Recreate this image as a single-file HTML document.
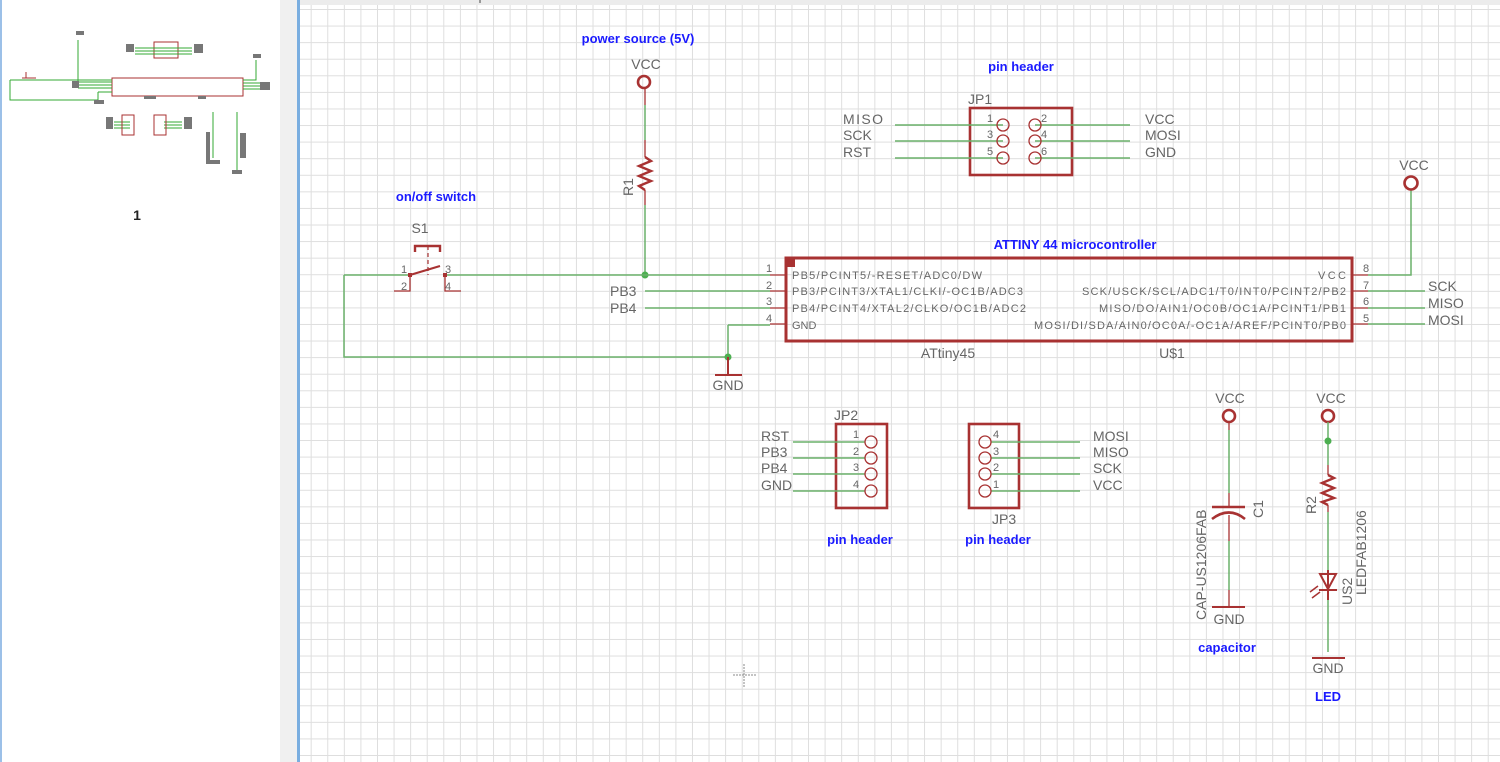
<!DOCTYPE html>
<html><head><meta charset="utf-8"><style>
html,body{margin:0;padding:0;width:1500px;height:762px;overflow:hidden;background:#fff}
svg{display:block;position:absolute;left:0;top:0}
#grid{position:absolute;left:300px;top:0;width:1200px;height:762px;
background-image:linear-gradient(to right,#dedede 1px,transparent 1px),linear-gradient(to bottom,#dedede 1px,transparent 1px);
background-size:16.58px 16.58px;background-position:10.7px 9px}
text{font-family:"Liberation Sans",sans-serif}
.g{fill:#666;font-size:14px}
.s{fill:#666;font-size:11px}
.b{fill:#1a1aff;font-size:13px;font-weight:bold}
.r{stroke:#a83232;fill:none;stroke-width:1.3}
.rt{stroke:#a83232;fill:none;stroke-width:2.6}
.w{stroke:#6ab06a;fill:none;stroke-width:1.5}
</style></head><body>
<div id="grid"></div>
<svg width="1500" height="762" viewBox="0 0 1500 762">
<!-- left panel -->
<rect x="0" y="0" width="280" height="762" fill="#fff"/>
<rect x="0" y="0" width="2" height="762" fill="#9cc0e8"/>
<rect x="280" y="0" width="17" height="762" fill="#f0f0f0"/>
<rect x="297" y="0" width="3" height="762" fill="#7aaee0"/>
<rect x="300" y="0" width="1200" height="5" fill="#ececec"/>
<rect x="479" y="0" width="2" height="3" fill="#999"/>

<!-- thumbnail -->
<g>
<rect x="112" y="78" width="131" height="18" fill="none" stroke="#a83232" stroke-width="1"/>
<path d="M10 80H112M10 80V100H98M78 82H112M78 85H112M78 88H112M98 92H112M98 92V100M78 40V82M256 60V80H243M243 83H260M243 86H260M243 89H260" stroke="#3a3" fill="none" stroke-width="1"/>
<rect x="154" y="42" width="24" height="16" fill="none" stroke="#a83232"/>
<path d="M135 48H192M135 51H192M135 54H192M114 122H130M114 125H130M114 128H130M164 122H182M164 125H182M164 128H182" stroke="#3a3" stroke-width="1"/>
<rect x="122" y="115" width="12" height="20" fill="none" stroke="#a83232"/>
<rect x="154" y="115" width="12" height="20" fill="none" stroke="#a83232"/>
<path d="M213 112V158M237 112V170" stroke="#3a3"/>
<g fill="#777"><rect x="126" y="44" width="8" height="8"/><rect x="194" y="44" width="9" height="9"/><rect x="72" y="81" width="7" height="7"/><rect x="94" y="100" width="10" height="4"/><rect x="260" y="82" width="10" height="8"/><rect x="106" y="117" width="7" height="12"/><rect x="184" y="117" width="8" height="12"/><rect x="206" y="132" width="4" height="32"/><rect x="240" y="133" width="6" height="25"/><rect x="144" y="96" width="12" height="3"/><rect x="198" y="96" width="8" height="3"/><rect x="76" y="31" width="8" height="4"/><rect x="253" y="54" width="8" height="4"/><rect x="210" y="160" width="10" height="4"/><rect x="232" y="170" width="10" height="4"/></g>
<path d="M22 78H36M26 72V78" stroke="#a83232"/>
</g>
<text x="137" y="220" font-size="14" font-weight="bold" fill="#222" text-anchor="middle">1</text>

<!-- titles -->
<text x="638" y="43" class="b" text-anchor="middle">power source (5V)</text>
<text x="1021" y="71" class="b" text-anchor="middle">pin header</text>
<text x="436" y="201" class="b" text-anchor="middle">on/off switch</text>
<text x="1075" y="249" class="b" text-anchor="middle">ATTINY 44 microcontroller</text>
<text x="860" y="544" class="b" text-anchor="middle">pin header</text>
<text x="998" y="544" class="b" text-anchor="middle">pin header</text>
<text x="1227" y="652" class="b" text-anchor="middle">capacitor</text>
<text x="1328" y="701" class="b" text-anchor="middle">LED</text>

<!-- VCC + R1 -->
<text x="646" y="69" class="g" text-anchor="middle">VCC</text>
<circle cx="644" cy="82" r="6" class="rt"/>
<path d="M645 88V105M645 140V157M645 190V205" class="r"/>
<path d="M645 105V140M645 205V275" class="w"/>
<path d="M645 157L651 161L639 166L651 171L639 176L651 181L639 186L645 190" stroke="#a83232" stroke-width="2.4" fill="none"/>
<text transform="translate(633,196) rotate(-90)" class="g">R1</text>
<circle cx="645" cy="275" r="3.5" fill="#4caf50"/>

<!-- switch -->
<text x="420" y="233" class="g" text-anchor="middle">S1</text>
<path d="M415 252V246H440V252" stroke="#a83232" stroke-width="2.4" fill="none"/>
<path d="M428 246V275" stroke="#a83232" stroke-width="1.2" stroke-dasharray="4 3"/>
<path d="M410 275L440 266" stroke="#a83232" stroke-width="2.2"/>
<path d="M394 291H410V275M461 291H445V275" class="r"/>
<rect x="408" y="273" width="4" height="4" fill="#a83232"/><rect x="443" y="273" width="4" height="4" fill="#a83232"/>
<text x="401" y="273" class="s">1</text><text x="401" y="290" class="s">2</text>
<text x="445" y="273" class="s">3</text><text x="445" y="290" class="s">4</text>
<path d="M344 275H408M447 275H770M344 275V357H728M728 325V357M728 325H770" class="w"/>
<circle cx="728" cy="357" r="3.5" fill="#4caf50"/>
<path d="M728 357V375M715 375H742" stroke="#a83232" stroke-width="2"/>
<text x="728" y="390" class="g" text-anchor="middle">GND</text>

<text x="610" y="296" class="g">PB3</text>
<text x="610" y="313" class="g">PB4</text>
<path d="M645 291H770M645 308H770" class="w"/>

<!-- chip -->
<rect x="786" y="258" width="566" height="83" fill="none" stroke="#a83232" stroke-width="3"/>
<rect x="787" y="259" width="8" height="8" fill="#a83232"/>
<path d="M770 275H786M770 291H786M770 308H786M770 324H786M1352 275H1368M1352 291H1368M1352 308H1368M1352 324H1368" class="r"/>
<text x="766" y="272" class="s">1</text><text x="766" y="289" class="s">2</text><text x="766" y="305" class="s">3</text><text x="766" y="322" class="s">4</text>
<text x="1363" y="272" class="s">8</text><text x="1363" y="289" class="s">7</text><text x="1363" y="305" class="s">6</text><text x="1363" y="322" class="s">5</text>
<g class="s">
<text x="792" y="279" textLength="190" lengthAdjust="spacing">PB5/PCINT5/-RESET/ADC0/DW</text>
<text x="792" y="295" textLength="231" lengthAdjust="spacing">PB3/PCINT3/XTAL1/CLKI/-OC1B/ADC3</text>
<text x="792" y="312" textLength="234" lengthAdjust="spacing">PB4/PCINT4/XTAL2/CLKO/OC1B/ADC2</text>
<text x="792" y="329">GND</text>
<text x="1318" y="279" textLength="28" lengthAdjust="spacing">VCC</text>
<text x="1082" y="295" textLength="264" lengthAdjust="spacing">SCK/USCK/SCL/ADC1/T0/INT0/PCINT2/PB2</text>
<text x="1099" y="312" textLength="247" lengthAdjust="spacing">MISO/DO/AIN1/OC0B/OC1A/PCINT1/PB1</text>
<text x="1034" y="329" textLength="312" lengthAdjust="spacing">MOSI/DI/SDA/AIN0/OC0A/-OC1A/AREF/PCINT0/PB0</text>
</g>
<text x="948" y="358" class="g" text-anchor="middle">ATtiny45</text>
<text x="1172" y="358" class="g" text-anchor="middle">U$1</text>
<path d="M1368 275H1411V190M1368 291H1425M1368 308H1425M1368 324H1425" class="w"/>
<text x="1414" y="170" class="g" text-anchor="middle">VCC</text>
<circle cx="1411" cy="183" r="6.5" class="rt"/>
<text x="1428" y="291" class="g">SCK</text>
<text x="1428" y="308" class="g">MISO</text>
<text x="1428" y="325" class="g">MOSI</text>

<!-- JP1 -->
<text x="968" y="104" class="g">JP1</text>
<rect x="970" y="108" width="102" height="67" fill="none" stroke="#a83232" stroke-width="2.6"/>
<path d="M895 125H1003M895 141H1003M895 158H1003M1035 125H1130M1035 141H1130M1035 158H1130" class="w"/>
<g class="r"><circle cx="1003" cy="125" r="6"/><circle cx="1003" cy="141" r="6"/><circle cx="1003" cy="158" r="6"/><circle cx="1035" cy="125" r="6"/><circle cx="1035" cy="141" r="6"/><circle cx="1035" cy="158" r="6"/></g>
<text x="987" y="122" class="s">1</text><text x="987" y="138" class="s">3</text><text x="987" y="155" class="s">5</text>
<text x="1041" y="122" class="s">2</text><text x="1041" y="138" class="s">4</text><text x="1041" y="155" class="s">6</text>
<text x="843" y="124" class="g" textLength="40">MISO</text><text x="843" y="140" class="g">SCK</text><text x="843" y="157" class="g">RST</text>
<text x="1145" y="124" class="g">VCC</text><text x="1145" y="140" class="g">MOSI</text><text x="1145" y="157" class="g">GND</text>

<!-- JP2 -->
<text x="834" y="420" class="g">JP2</text>
<rect x="836" y="424" width="51" height="84" fill="none" stroke="#a83232" stroke-width="2.6"/>
<path d="M793 442H865M793 458H865M793 474H865M793 491H865" class="w"/>
<g class="r"><circle cx="871" cy="442" r="6"/><circle cx="871" cy="458" r="6"/><circle cx="871" cy="474" r="6"/><circle cx="871" cy="491" r="6"/></g>
<text x="853" y="438" class="s">1</text><text x="853" y="455" class="s">2</text><text x="853" y="471" class="s">3</text><text x="853" y="488" class="s">4</text>
<text x="761" y="441" class="g">RST</text><text x="761" y="457" class="g">PB3</text><text x="761" y="473" class="g">PB4</text><text x="761" y="490" class="g">GND</text>

<!-- JP3 -->
<rect x="969" y="424" width="50" height="84" fill="none" stroke="#a83232" stroke-width="2.6"/>
<path d="M991 442H1080M991 458H1080M991 474H1080M991 491H1080" class="w"/>
<g class="r"><circle cx="985" cy="442" r="6"/><circle cx="985" cy="458" r="6"/><circle cx="985" cy="474" r="6"/><circle cx="985" cy="491" r="6"/></g>
<text x="993" y="438" class="s">4</text><text x="993" y="455" class="s">3</text><text x="993" y="471" class="s">2</text><text x="993" y="488" class="s">1</text>
<text x="1093" y="441" class="g">MOSI</text><text x="1093" y="457" class="g">MISO</text><text x="1093" y="473" class="g">SCK</text><text x="1093" y="490" class="g">VCC</text>
<text x="992" y="524" class="g">JP3</text>

<!-- capacitor -->
<text x="1230" y="403" class="g" text-anchor="middle">VCC</text>
<circle cx="1229" cy="416" r="6" class="rt"/>
<path d="M1229 422V430M1229 493V507M1229 515V541M1229 590V607" class="r"/>
<path d="M1229 430V493M1229 541V590" class="w"/>
<path d="M1212 507H1245M1212 519Q1229 506 1245 519" stroke="#a83232" stroke-width="2.6" fill="none"/>
<path d="M1212 607H1245" stroke="#a83232" stroke-width="2"/>
<text x="1229" y="624" class="g" text-anchor="middle">GND</text>
<text transform="translate(1206,620) rotate(-90)" class="g">CAP-US1206FAB</text>
<text transform="translate(1263,518) rotate(-90)" class="g">C1</text>

<!-- LED -->
<text x="1331" y="403" class="g" text-anchor="middle">VCC</text>
<circle cx="1328" cy="416" r="6" class="rt"/>
<path d="M1328 422V441M1328 441V465M1328 512V570M1328 600V652" class="w"/>
<circle cx="1328" cy="441" r="3.5" fill="#4caf50"/>
<path d="M1328 465V475M1328 505V512" class="r"/>
<path d="M1328 475L1334 478L1322 483L1334 488L1322 493L1334 498L1322 502L1328 505" stroke="#a83232" stroke-width="2.4" fill="none"/>
<path d="M1328 570V600M1320 574H1336L1328 589ZM1319 590H1337" stroke="#a83232" stroke-width="2" fill="none"/>
<path d="M1318 586L1310 592M1320 592L1312 598" stroke="#a83232" stroke-width="1.5"/>
<path d="M1312 658H1345" stroke="#a83232" stroke-width="2"/>
<text x="1328" y="673" class="g" text-anchor="middle">GND</text>
<text transform="translate(1316,514) rotate(-90)" class="g">R2</text>
<text transform="translate(1352,605) rotate(-90)" class="g">US2</text>
<text transform="translate(1366,595) rotate(-90)" class="g">LEDFAB1206</text>

<!-- cursor -->
<path d="M733 675H756M744 664V687" stroke="#888" stroke-width="1" stroke-dasharray="2 1"/>
</svg>
</body></html>
